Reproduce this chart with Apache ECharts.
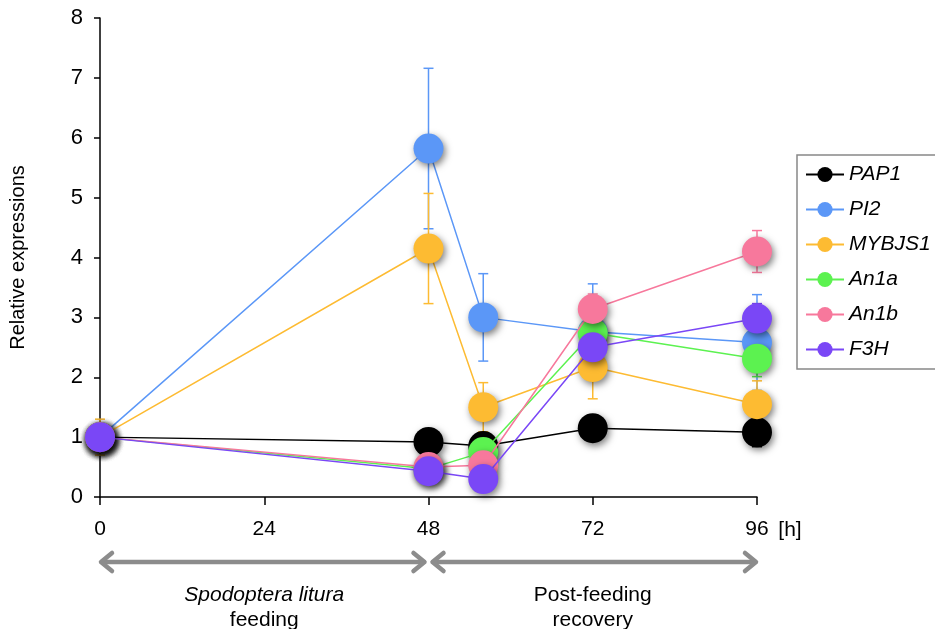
<!DOCTYPE html>
<html>
<head>
<meta charset="utf-8">
<script src="https://cdn.jsdelivr.net/npm/echarts@6/dist/echarts.min.js"></script>
<style>
  html, body { margin: 0; padding: 0; background: #fff; }
  #chart { width: 935px; height: 629px; }
</style>
</head>
<body>
<div id="chart"></div>
<script>
// sampling time points [h]
const hours = [0, 48, 56, 72, 96]
const xTicks = [0, 24, 48, 72, 96]

const genes = ['PAP1', 'PI2', 'MYBJS1', 'An1a', 'An1b', 'F3H']
const colors = ['#000000', '#5b97f7', '#fdbb32', '#5cf250', '#f7789c', '#7a47f6']

// mean relative expressions
const PAP1 = [1.0, 0.92, 0.85, 1.15, 1.08]
const PI2 = [1.0, 5.82, 3.0, 2.76, 2.58]
const MYBJS1 = [1.0, 4.15, 1.5, 2.17, 1.55]
const An1a = [1.0, 0.47, 0.75, 2.74, 2.31]
const An1b = [1.0, 0.5, 0.53, 3.14, 4.1]
const F3H = [1.0, 0.43, 0.3, 2.5, 2.98]

// error bars (SD)
const PAP1Err = [0.05, 0.05, 0.05, 0.22, 0.24]
const PI2Err = [0.1, 1.34, 0.73, 0.8, 0.8]
const MYBJS1Err = [0.3, 0.92, 0.41, 0.53, 0.39]
const An1aErr = [0.1, 0.05, 0.1, 0.2, 0.3]
const An1bErr = [0.2, 0.05, 0.1, 0.25, 0.35]
const F3HErr = [0.1, 0.05, 0.05, 0.2, 0.25]

const means = [PAP1, PI2, MYBJS1, An1a, An1b, F3H]
const errs = [PAP1Err, PI2Err, MYBJS1Err, An1aErr, An1bErr, F3HErr]

const font = 'Liberation Sans, Arial, sans-serif'
const chart = echarts.init(document.getElementById('chart'))

const series = []
genes.forEach((name, i) => {
  series.push({
    name: name + '_err',
    type: 'custom',
    z: 1,
    silent: true,
    data: hours.map((h, k) => [h, means[i][k] - errs[i][k], means[i][k] + errs[i][k]]),
    renderItem(params, api) {
      const lo = api.coord([api.value(0), api.value(1)])
      const hi = api.coord([api.value(0), api.value(2)])
      const w = 5
      const style = { stroke: colors[i], lineWidth: 1.5 }
      return {
        type: 'group',
        children: [
          { type: 'line', shape: { x1: lo[0], y1: lo[1], x2: hi[0], y2: hi[1] }, style },
          { type: 'line', shape: { x1: lo[0] - w, y1: lo[1], x2: lo[0] + w, y2: lo[1] }, style },
          { type: 'line', shape: { x1: hi[0] - w, y1: hi[1], x2: hi[0] + w, y2: hi[1] }, style }
        ]
      }
    }
  })
})
genes.forEach((name, i) => {
  series.push({
    name,
    type: 'line',
    z: 2 + i,
    data: hours.map((h, k) => [h, means[i][k]]),
    symbol: 'circle',
    symbolSize: 30,
    lineStyle: { color: colors[i], width: 1.5 },
    itemStyle: {
      color: colors[i],
      shadowBlur: 7,
      shadowColor: 'rgba(0,0,0,0.5)',
      shadowOffsetX: 2,
      shadowOffsetY: 3
    },
    animation: false
  })
})

chart.setOption({
  animation: false,
  grid: { left: 100, right: 178, top: 18, bottom: 132 },
  legend: {
    data: genes,
    orient: 'vertical',
    left: 797,
    top: 155,
    padding: [9, 6, 9, 8],
    itemGap: 14,
    itemWidth: 38,
    itemHeight: 19,
    borderColor: '#888',
    borderWidth: 1.5,
    textStyle: { fontFamily: font, fontSize: 21, fontStyle: 'italic', color: '#000' }
  },
  xAxis: {
    type: 'value',
    min: 0,
    max: 96,
    interval: 24,
    splitLine: { show: false },
    axisLine: { lineStyle: { color: '#000', width: 1.5 } },
    axisTick: { show: true, inside: false, length: 8, lineStyle: { color: '#000', width: 1.5 } },
    axisLabel: { color: '#000', fontFamily: font, fontSize: 21, margin: 22,
      formatter: v => xTicks.includes(v) ? String(v) : '' }
  },
  yAxis: {
    type: 'value',
    min: 0,
    max: 8,
    interval: 1,
    name: 'Relative expressions',
    nameLocation: 'middle',
    nameGap: 72,
    nameTextStyle: { color: '#000', fontFamily: font, fontSize: 20 },
    splitLine: { show: false },
    axisLine: { show: true, lineStyle: { color: '#000', width: 1.5 } },
    axisTick: { show: true, length: 6, lineStyle: { color: '#000', width: 1.5 } },
    axisLabel: { color: '#000', fontFamily: font, fontSize: 22, margin: 17 }
  },
  series
})

// annotations under the time axis
const p0 = chart.convertToPixel({ xAxisIndex: 0 }, 0)
const p48 = chart.convertToPixel({ xAxisIndex: 0 }, 48)
const p96 = chart.convertToPixel({ xAxisIndex: 0 }, 96)
const yAxisPx = chart.convertToPixel({ yAxisIndex: 0 }, 0)
const arrowY = yAxisPx + 65
const gray = '#8c8c8c'
const head = 12

function arrow(x1, x2) {
  const st = { stroke: gray, lineWidth: 4.5, lineCap: 'round', lineJoin: 'round', fill: null }
  return [
    { type: 'line', shape: { x1: x1 + 2, y1: arrowY, x2: x2 - 2, y2: arrowY }, style: st },
    { type: 'polyline', shape: { points: [[x1 + head, arrowY - 9], [x1 + 1, arrowY], [x1 + head, arrowY + 9]] }, style: st },
    { type: 'polyline', shape: { points: [[x2 - head, arrowY - 9], [x2 - 1, arrowY], [x2 - head, arrowY + 9]] }, style: st }
  ]
}

const txt = (x, y, text, italic) => ({
  type: 'text', x, y,
  style: { text, fill: '#000', font: (italic ? 'italic ' : '') + '21px ' + font, align: 'center', verticalAlign: 'middle' }
})

chart.setOption({
  graphic: [
    ...arrow(p0, p48 - 3),
    ...arrow(p48 + 3, p96),
    txt(p96 + 33, yAxisPx + 33, '[h]'),
    txt((p0 + p48) / 2, arrowY + 33, 'Spodoptera litura', true),
    txt((p0 + p48) / 2, arrowY + 58, 'feeding'),
    txt((p48 + p96) / 2, arrowY + 33, 'Post-feeding'),
    txt((p48 + p96) / 2, arrowY + 58, 'recovery')
  ]
})
</script>
</body>
</html>
